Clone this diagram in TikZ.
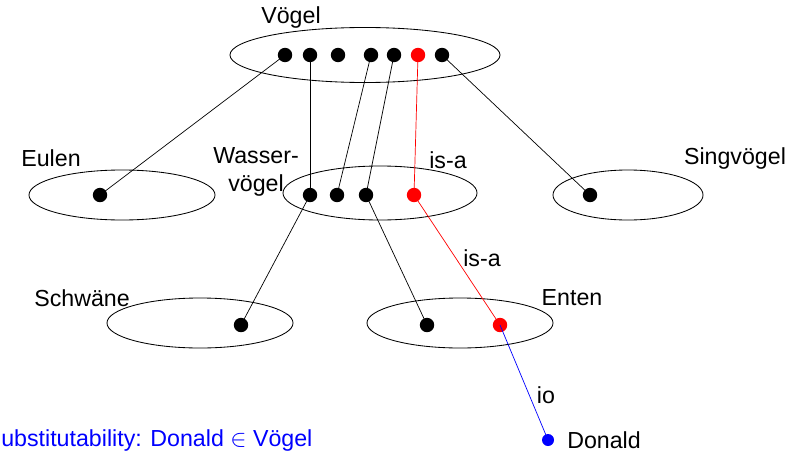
\documentclass[tikz,border=0pt]{standalone}
\usepackage{fontspec}
\setmainfont{Liberation Sans}
\usetikzlibrary{positioning, shapes.geometric}

\begin{document}
\begin{tikzpicture}[x=0.025cm, y=-0.025cm,
    menge/.style={ellipse, draw, line width=0.6pt, minimum width=4.65cm, minimum height=1.25cm},
    dot/.style={circle, fill=black, inner sep=0pt, minimum size=0.36cm},
    lbl/.style={font=\fontsize{16.5}{19.5}\selectfont, inner sep=0pt},
    link/.style={line width=0.5pt}
]
    \useasboundingbox (0,0) rectangle (799,453);

    % Sets
    \node[menge, minimum width=6.75cm, minimum height=1.375cm] (voegel) at (365,55) {};
    \node[menge] (eulen) at (122,195) {};
    \node[menge, minimum width=4.85cm, minimum height=1.35cm] (wasser) at (380,193) {};
    \node[menge, minimum width=3.75cm] (sing) at (628,195) {};
    \node[menge] (schwaene) at (200,323) {};
    \node[menge] (enten) at (460,323) {};

    % Set names
    \node[lbl] at (291,18) {Vögel};
    \node[lbl] at (51,158) {Eulen};
    \node[lbl, align=center] at (256,172) {Wasser-\\vögel};
    \node[lbl] at (735,158) {Singvögel};
    \node[lbl] at (82,298) {Schwäne};
    \node[lbl] at (572,298) {Enten};

    % Elements
    \foreach \x/\c [count=\i] in {285/black,310/black,338/black,371/black,394/black,418/red,442/black}
        \node[dot, fill=\c] (v\i) at (\x,55) {};
    \node[dot] (e1) at (100,195) {};
    \foreach \x/\c [count=\i] in {310/black,337/black,366/black,414/red}
        \node[dot, fill=\c] (w\i) at (\x,195) {};
    \node[dot] (s1) at (590,195) {};
    \node[dot] (sw1) at (241,325) {};
    \node[dot] (en1) at (427,325) {};
    \node[dot, fill=red] (en2) at (500,325) {};
    \node[dot, fill=blue, minimum size=0.3cm] (donald) at (548,440) {};
    \node[lbl, anchor=west] at (567,440) {Donald};

    % Links
    \draw[link] (v1.center) -- (e1.center);
    \draw[link] (v2.center) -- (w1.center);
    \draw[link] (v4.center) -- (w2.center);
    \draw[link] (v5.center) -- (w3.center);
    \draw[link] (v7.center) -- (s1.center);
    \draw[link, red] (v6.center) -- (w4.center);
    \draw[link] (w1.center) -- (sw1.center);
    \draw[link] (w3.center) -- (en1.center);
    \draw[link, red] (w4.center) -- (en2.center);
    \draw[link, blue] (en2.center) -- (donald.center);

    % Link labels
    \node[lbl] at (448,160) {is-a};
    \node[lbl] at (482,258) {is-a};
    \node[lbl] at (546,395) {io};

    \node[lbl, anchor=west, text=blue] at (1,440) {ubstitutability: Donald {\normalfont$\in$} Vögel};
\end{tikzpicture}
\end{document}
